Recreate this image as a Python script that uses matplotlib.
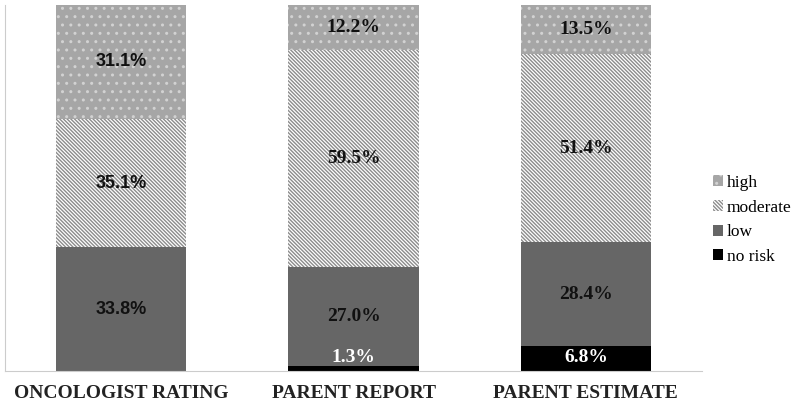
import matplotlib.pyplot as plt
import numpy as np

plt.rcParams['font.family'] = ['Liberation Serif', 'DejaVu Serif']
plt.rcParams['hatch.linewidth'] = 1.0

groups = ['ONCOLOGIST RATING', 'PARENT REPORT', 'PARENT ESTIMATE']
no_risk = [0.0, 1.3, 6.8]
low = [33.8, 27.0, 28.4]
moderate = [35.1, 59.5, 51.4]
high = [31.1, 12.2, 13.5]

x = np.arange(len(groups))
w = 0.56

fig = plt.figure(figsize=(8, 4.05), dpi=100)
ax = fig.add_axes([5 / 800, 34 / 405, 697 / 800, 366 / 405])

b0 = np.zeros(3)
ax.bar(x, no_risk, w, bottom=b0, color='black', linewidth=0, label='no risk')
b1 = b0 + np.array(no_risk)
ax.bar(x, low, w, bottom=b1, color='#666666', linewidth=0, label='low')
b2 = b1 + np.array(low)
ax.bar(x, moderate, w, bottom=b2, color='white', edgecolor='#8c8c8c',
       hatch='\\' * 9, linewidth=0, label='moderate')
b3 = b2 + np.array(moderate)
ax.bar(x, high, w, bottom=b3, color='#a6a6a6', edgecolor='#d2d2d2',
       hatch='..', linewidth=0, label='high')

# value labels (first column uses a sans font in the original)
for i in range(3):
    fam = 'Liberation Sans' if i == 0 else 'Liberation Serif'
    for vals, bot in [(low, b1), (moderate, b2), (high, b3)]:
        ax.text(x[i], bot[i] + vals[i] / 2, f'{vals[i]:.1f}%', ha='center', va='center',
                fontsize=13 if i == 0 else 14, fontweight='bold', color='#111111', family=fam)
    if no_risk[i] > 0:
        ypos = max(no_risk[i] / 2, 3.8)
        ax.text(x[i], ypos, f'{no_risk[i]:.1f}%', ha='center', va='center',
                fontsize=14, fontweight='bold', color='white')

ax.set_xlim(-0.5, 2.5)
ax.set_ylim(0, 100)
ax.set_yticks([])
ax.set_xticks(x)
ax.set_xticklabels(groups, fontsize=14, fontweight='bold', color='#222222')
ax.tick_params(axis='x', length=0, pad=10)
for s in ['top', 'right']:
    ax.spines[s].set_visible(False)
ax.spines['left'].set_color('#cccccc')
ax.spines['bottom'].set_color('#cccccc')

handles, labels = ax.get_legend_handles_labels()
fig.legend(handles[::-1], labels[::-1], loc='center left', bbox_to_anchor=(697 / 800, 0.457),
           frameon=False, fontsize=12.5, handlelength=0.6, handleheight=0.6,
           handletextpad=0.2, labelspacing=0.5)

fig.savefig('out.png', dpi=100)
